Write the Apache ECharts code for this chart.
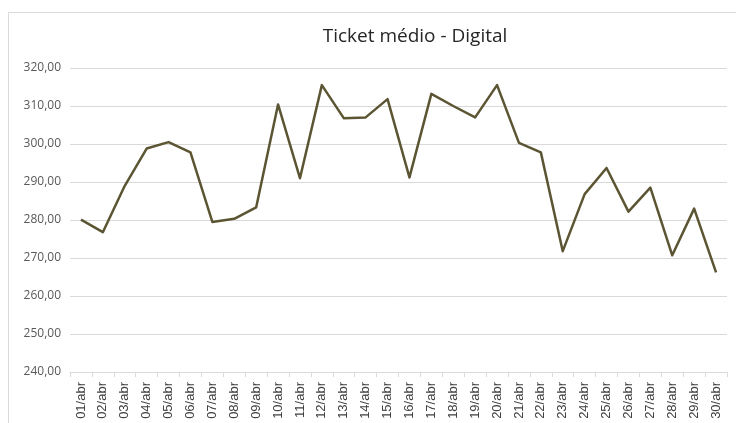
<!DOCTYPE html>
<html>
<head>
<meta charset="utf-8">
<script src="https://cdn.jsdelivr.net/npm/echarts@6/dist/echarts.min.js"></script>
<style>
  html, body { margin: 0; padding: 0; background: #fff; }
  #chartBox { width: 736px; height: 423px; }
</style>
</head>
<body>
<div id="chartBox"></div>
<script>
// dias de abril
var dias = [
  "01/abr", "02/abr", "03/abr", "04/abr", "05/abr", "06/abr", "07/abr", "08/abr", "09/abr", "10/abr",
  "11/abr", "12/abr", "13/abr", "14/abr", "15/abr", "16/abr", "17/abr", "18/abr", "19/abr", "20/abr",
  "21/abr", "22/abr", "23/abr", "24/abr", "25/abr", "26/abr", "27/abr", "28/abr", "29/abr", "30/abr"
];
// ticket medio digital
var ticketMedio = [
  280.1, 276.8, 289.0, 298.8, 300.5, 297.8, 279.5, 280.3, 283.3, 310.4,
  291.0, 315.5, 306.8, 307.0, 311.8, 291.2, 313.2, 310.0, 307.0, 315.5,
  300.3, 297.8, 271.8, 286.8, 293.7, 282.2, 288.5, 270.7, 283.0, 266.2
];
var yMin = 240;
var yMax = 320;
var yStep = 10;

var chart = echarts.init(document.getElementById("chartBox"));
var option = {
  animation: false,
  title: {
    text: "Ticket médio - Digital",
    left: 410,
    textAlign: "center",
    top: 22,
    textStyle: {
      color: "#262626",
      fontFamily: "Open Sans",
      fontSize: 19,
      fontWeight: "normal"
    }
  },
  graphic: [
    {
      type: "rect",
      shape: { x: 8.5, y: 12.5, width: 740, height: 420 },
      style: { fill: null, stroke: "#d9d9d9", lineWidth: 1 },
      silent: true
    }
  ],
  grid: { left: 70, right: 9, top: 68, bottom: 51 },
  xAxis: {
    type: "category",
    data: dias,
    boundaryGap: true,
    axisLine: { lineStyle: { color: "#d9d9d9", width: 1 } },
    axisTick: { show: true, alignWithLabel: false, length: 5, lineStyle: { color: "#d9d9d9" } },
    axisLabel: {
      rotate: 90,
      interval: 0,
      color: "#404040",
      fontFamily: "Liberation Sans",
      fontSize: 13,
      margin: 10
    }
  },
  yAxis: {
    type: "value",
    min: yMin,
    max: yMax,
    interval: yStep,
    axisLine: { show: false },
    axisTick: { show: false },
    splitLine: { lineStyle: { color: "#d9d9d9", width: 1 } },
    axisLabel: {
      color: "#595959",
      fontFamily: "Open Sans",
      fontSize: 12,
      margin: 9,
      formatter: function (v) { return v.toFixed(2).replace(".", ","); }
    }
  },
  series: [
    {
      name: "Ticket médio",
      type: "line",
      data: ticketMedio,
      symbol: "none",
      lineStyle: { color: "#5b5533", width: 2.5, join: "round" }
    }
  ]
};
chart.setOption(option);
</script>
</body>
</html>
